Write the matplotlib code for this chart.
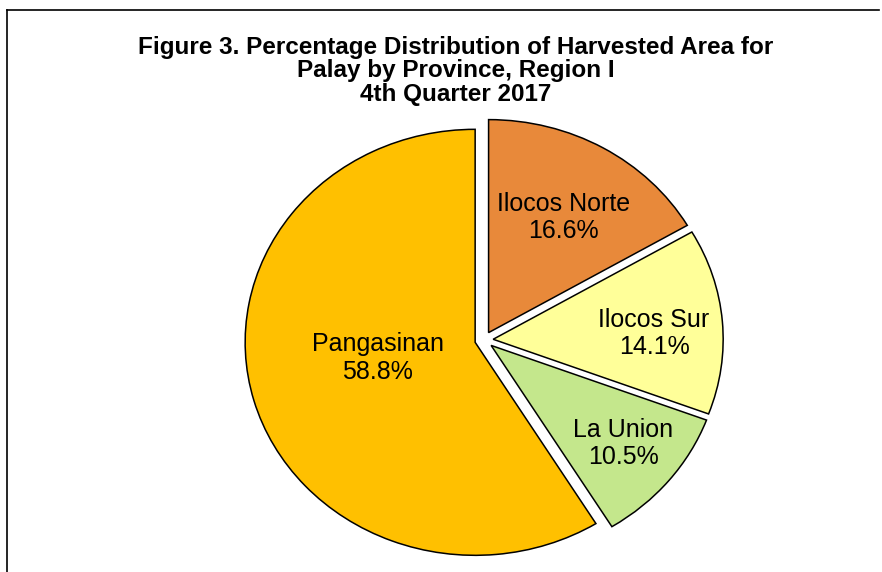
import matplotlib.pyplot as plt
import numpy as np
from matplotlib.lines import Line2D

provinces = ['Ilocos Norte', 'Ilocos Sur', 'La Union', 'Pangasinan']
shares = [16.6, 14.1, 10.5, 58.8]
colors = ['#E8893A', '#FFFF99', '#C4E78C', '#FFC000']
explode = [0.04, 0.04, 0.04, 0.04]
label_dist = [0.63, 0.70, 0.735, 0.43]
label_turn = [-1.0, -2.5, 0.7, -5.5]   # small angle tweaks, degrees

plt.rcParams['font.family'] = ['Liberation Sans', 'DejaVu Sans']

fig = plt.figure(figsize=(8.82, 5.72), dpi=100)
ax = fig.add_axes([0, 0, 1, 1])

wedges, _ = ax.pie(shares, colors=colors, startangle=90, counterclock=False,
                   explode=explode, radius=1.0,
                   wedgeprops=dict(edgecolor='black', linewidth=1.1))

for w, name, val, d, ex, t in zip(wedges, provinces, shares, label_dist, explode, label_turn):
    mid = np.deg2rad((w.theta1 + w.theta2) / 2 + t)
    r = d + ex
    ax.text(r * np.cos(mid), r * np.sin(mid), f'{name}\n{val:.1f}%',
            ha='center', va='center', fontsize=18, linespacing=1.18)

# pixel -> data mapping: centre at (484, 340); pie is a bit wider than tall
cx, cy, Rx, Ry = 484, 340, 230, 213
ax.set_xlim(-cx / Rx, (882 - cx) / Rx)
ax.set_ylim(-(572 - cy) / Ry, cy / Ry)
ax.set_aspect('auto')
ax.axis('off')

fig.text(456 / 882, 1 - 71 / 572,
         'Figure 3. Percentage Distribution of Harvested Area for\n'
         'Palay by Province, Region I\n4th Quarter 2017',
         ha='center', va='center', fontsize=17.5, fontweight='bold',
         linespacing=1.05)

# partial frame (left and top edges)
fig.add_artist(Line2D([7 / 882, 7 / 882], [0, 1 - 10 / 572], color='black', lw=1.2,
                      transform=fig.transFigure))
fig.add_artist(Line2D([7 / 882, 879 / 882], [1 - 10 / 572, 1 - 10 / 572], color='black',
                      lw=1.2, transform=fig.transFigure))

fig.savefig('out.png', dpi=100)
